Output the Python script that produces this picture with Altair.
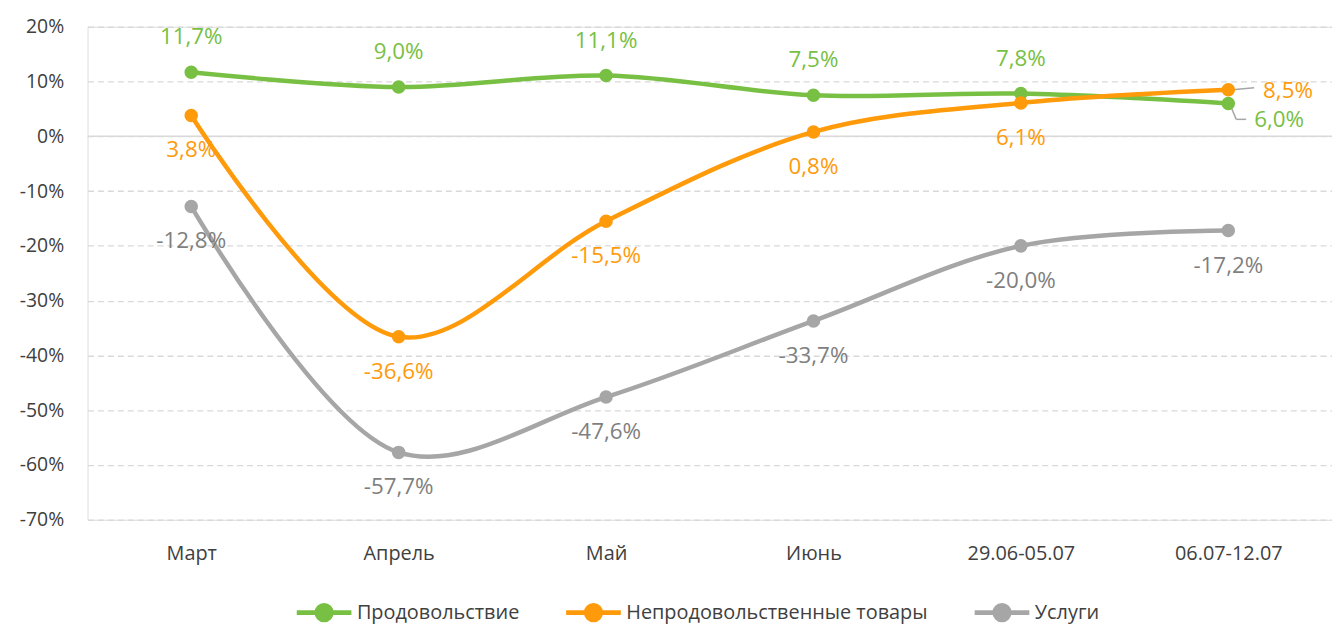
import altair as alt
import pandas as pd

categories = ["Март", "Апрель", "Май", "Июнь", "29.06-05.07", "06.07-12.07"]
series_names = ["Продовольствие", "Непродовольственные товары", "Услуги"]
food = [11.7, 9.0, 11.1, 7.5, 7.8, 6.0]
nonfood = [3.8, -36.6, -15.5, 0.8, 6.1, 8.5]
services = [-12.8, -57.7, -47.6, -33.7, -20.0, -17.2]
y_ticks = [20, 10, 0, -10, -20, -30, -40, -50, -60, -70]

colors = ["#78c043", "#ff9a0b", "#a6a6a6"]
label_colors = ["#78c043", "#ff9a0b", "#7f7f7f"]
FONT = "Open Sans"
TICK_COLOR = "#404040"
LABEL_SIZE = 22.5

def fmt(v):
    return f"{v:.1f}".replace(".", ",") + "%"

rows = []
# drawing order: services behind, then food, then non-food on top
for name, vals in [(series_names[2], services), (series_names[0], food), (series_names[1], nonfood)]:
    for i, (c, v) in enumerate(zip(categories, vals)):
        rows.append({"cat": c, "series": name, "value": v, "label": fmt(v), "idx": i})
df = pd.DataFrame(rows)

x_enc = alt.X("cat:N", sort=categories,
              scale=alt.Scale(type="point", padding=0.5),
              axis=alt.Axis(title=None, domain=False, ticks=False, labelAngle=0,
                            labelAlign="center", labelBaseline="top",
                            labelFontSize=20, labelFont=FONT, labelColor=TICK_COLOR,
                            labelPadding=24, grid=False))
y_scale = alt.Scale(domain=[-70, 20], nice=False, zero=False)
y_enc = alt.Y("value:Q", scale=y_scale,
              axis=alt.Axis(title=None, values=y_ticks, domain=False, ticks=False,
                            labelExpr="datum.value + '%'", labelFontSize=19.5, labelFont=FONT,
                            labelColor=TICK_COLOR, labelPadding=24,
                            grid=True, gridColor="#d9d9d9", gridDash=[6, 4], gridWidth=1.3))
color_enc = alt.Color("series:N",
                      scale=alt.Scale(domain=series_names, range=colors),
                      legend=alt.Legend(title=None, orient="none", direction="horizontal",
                                        legendX=208, legendY=559,
                                        symbolType="M-1,0L1,0M-0.26,0A0.26,0.26 0 1,1 0.26,0A0.26,0.26 0 1,1 -0.26,0",
                                        symbolSize=3025, symbolStrokeWidth=5,
                                        labelFontSize=20, labelFont=FONT, labelColor=TICK_COLOR,
                                        labelLimit=0, columnPadding=36, labelOffset=3,
                                        symbolLimit=0, padding=0))

base = alt.Chart(df)

zero_rule = alt.Chart(pd.DataFrame({"value": [0]})).mark_rule(color="#d9d9d9", strokeWidth=1.5).encode(
    y=y_enc)

lines = base.mark_line(strokeWidth=4.5, interpolate="catmull-rom").encode(
    x=x_enc, y=y_enc, color=color_enc, detail="series:N")
points = base.mark_circle(size=185, opacity=1).encode(
    x=x_enc, y=y_enc, color=color_enc)

def sel(name, last):
    cond = (alt.datum.series == name) & ((alt.datum.idx == 5) if last else (alt.datum.idx < 5))
    return base.transform_filter(cond)

def labels(name, dy, color):
    return sel(name, False).mark_text(dy=dy, fontSize=LABEL_SIZE, font=FONT, color=color).encode(
        x=x_enc, y=y_enc, text="label:N")

lab_food = labels(series_names[0], -35, label_colors[0])
lab_nonfood = labels(series_names[1], 35, label_colors[1])
lab_serv = labels(series_names[2], 35, label_colors[2])

last_nonfood = sel(series_names[1], True).mark_text(
    dx=35, dy=1, align="left", fontSize=LABEL_SIZE, font=FONT, color=label_colors[1]).encode(
    x=x_enc, y=y_enc, text="label:N")
last_food = sel(series_names[0], True).mark_text(
    dx=26, dy=17, align="left", fontSize=LABEL_SIZE, font=FONT, color=label_colors[0]).encode(
    x=x_enc, y=y_enc, text="label:N")
last_serv = sel(series_names[2], True).mark_text(
    dy=36, fontSize=LABEL_SIZE, font=FONT, color=label_colors[2]).encode(
    x=x_enc, y=y_enc, text="label:N")

leader_nonfood = sel(series_names[1], True).mark_rule(
    color="#a6a6a6", strokeWidth=1.5, xOffset=4, x2Offset=26, yOffset=0, y2Offset=-2).encode(
    x=x_enc, x2="cat:N", y=y_enc, y2="value:Q")
leader_food1 = sel(series_names[0], True).mark_rule(
    color="#a6a6a6", strokeWidth=1.5, xOffset=3, x2Offset=8, yOffset=4, y2Offset=16).encode(
    x=x_enc, x2="cat:N", y=y_enc, y2="value:Q")
leader_food2 = sel(series_names[0], True).mark_rule(
    color="#a6a6a6", strokeWidth=1.5, xOffset=8, x2Offset=18, yOffset=16, y2Offset=16).encode(
    x=x_enc, x2="cat:N", y=y_enc, y2="value:Q")

chart = alt.layer(
    zero_rule, leader_nonfood, leader_food1, leader_food2, lines, points,
    lab_food, lab_nonfood, lab_serv, last_nonfood, last_food, last_serv
).properties(
    width=1252, height=496,
    autosize=alt.AutoSizeParams(type="none"),
    padding={"left": 80, "top": 17, "right": 0, "bottom": 104},
).configure_view(strokeWidth=0, stroke="transparent").configure_axis(
    domain=False, ticks=False).configure(background="white")

chart.save("out.html", embed_options={"renderer": "svg", "actions": False})
